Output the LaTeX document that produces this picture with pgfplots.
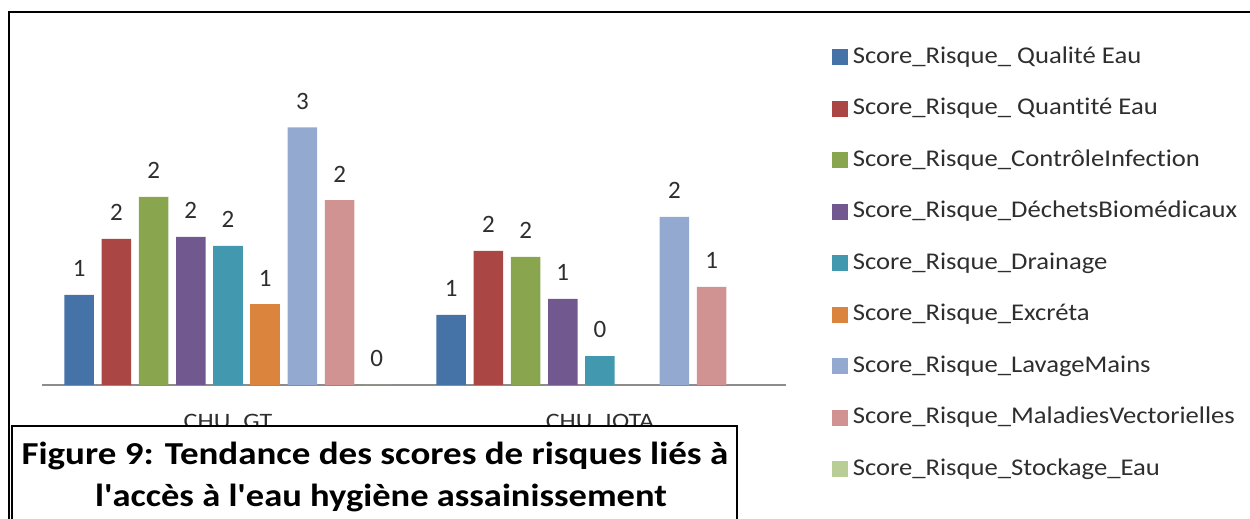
\documentclass[border=0pt]{standalone}
\usepackage{pgfplots}
\pgfplotsset{compat=1.18}
\usepackage{fontspec}
\setmainfont{Carlito}[Ligatures=NoCommon]
\definecolor{c1}{HTML}{4572A7}
\definecolor{c2}{HTML}{AA4643}
\definecolor{c3}{HTML}{89A54E}
\definecolor{c4}{HTML}{71588F}
\definecolor{c5}{HTML}{4198AF}
\definecolor{c6}{HTML}{DB843D}
\definecolor{c7}{HTML}{93A9CF}
\definecolor{c8}{HTML}{D19392}
\definecolor{c9}{HTML}{B9CD96}
\definecolor{txt}{HTML}{2E2E2E}
\newcommand{\hs}[1]{\scalebox{1.11}[1]{#1}}
\newcommand{\hc}[1]{\scalebox{1.18}[1]{#1}}
\pgfplotsset{
  mybar/.style={fill=#1, draw=none,
    legend image code/.code={\fill[fill=#1] (0pt,-4pt) rectangle (8pt,4pt);}},
}
\begin{document}
\begin{tikzpicture}[x=1pt,y=1pt]
\useasboundingbox (0,0) rectangle (625,259.5);
\begin{axis}[
  at={(21pt,67pt)}, anchor=south west,
  scale only axis, width=372pt, height=160pt,
  xmin=-0.5, xmax=1.5, ymin=0, ymax=4,
  axis x line*=bottom, axis y line=none,
  x axis line style={color=black!45, line width=0.6pt},
  xtick={0,1}, xticklabels={\hc{CHU\_GT}, \hc{CHU\_IOTA}},
  major tick length=0pt,
  xticklabel style={font=\fontsize{11}{13}\selectfont, text=txt, anchor=base, yshift=-22pt},
  ytick=\empty,
  ybar, bar width=14.75pt,
  clip=false,
  /pgf/number format/fixed, /pgf/number format/precision=0,
  /pgf/number format/assume math mode=true,
  nodes near coords,
  every node near coord/.append style={font=\fontsize{12.5}{14}\selectfont, text=txt, yshift=5.5pt},
  legend cell align=left,
  legend style={at={(axis description cs:1.053,1.075)}, anchor=north west,
    draw=none, fill=none, font=\fontsize{12}{14}\selectfont, text=txt,
    row sep=13.75pt, column sep=2.5pt,
    nodes={inner sep=0pt, text height=9pt, text depth=3pt}},
]
\addplot[mybar=c1, bar shift=-74.4pt] coordinates {(0,1.125) (1,0.875)};
\addplot[mybar=c2, bar shift=-55.8pt] coordinates {(0,1.825) (1,1.675)};
\addplot[mybar=c3, bar shift=-37.2pt] coordinates {(0,2.35) (1,1.6)};
\addplot[mybar=c4, bar shift=-18.6pt] coordinates {(0,1.85) (1,1.075)};
\addplot[mybar=c5, bar shift=0pt] coordinates {(0,1.74) (1,0.36)};
\addplot[mybar=c6, bar shift=18.6pt] coordinates {(0,1.01)};
\addplot[mybar=c7, bar shift=37.2pt] coordinates {(0,3.22) (1,2.1)};
\addplot[mybar=c8, bar shift=55.8pt] coordinates {(0,2.31) (1,1.225)};
\addplot[mybar=c9, bar shift=74.4pt] coordinates {(0,0)};
\legend{\hs{Score\_Risque\_ Qualité Eau}, \hs{Score\_Risque\_ Quantité Eau}, \hs{Score\_Risque\_ContrôleInfection}, \hs{Score\_Risque\_DéchetsBiomédicaux}, \hs{Score\_Risque\_Drainage}, \hs{Score\_Risque\_Excréta}, \hs{Score\_Risque\_LavageMains}, \hs{Score\_Risque\_MaladiesVectorielles}, \hs{Score\_Risque\_Stockage\_Eau}}
\end{axis}
\draw[line width=1pt] (4.5,-2) -- (4.5,253.5) -- (626,253.5);
\draw[line width=1pt, fill=white] (6,-2) rectangle (368.5,46.5);
\node[anchor=base, inner sep=0pt, font=\fontsize{16}{18}\bfseries] at (187.5,27) {\scalebox{1.156}[1]{Figure 9: Tendance des scores de risques liés à}};
\node[anchor=base, inner sep=0pt, font=\fontsize{16}{18}\bfseries] at (190.5,6) {\scalebox{1.14}[1]{l\textquotesingle accès à l\textquotesingle eau hygiène assainissement}};
\end{tikzpicture}
\end{document}
